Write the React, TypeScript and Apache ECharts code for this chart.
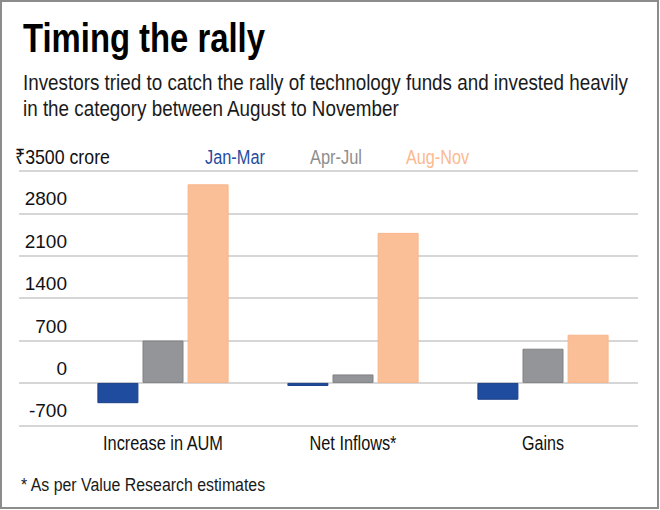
import React, { useEffect, useRef } from "react";
import * as echarts from "echarts";

const categories = ["Increase in AUM", "Net Inflows*", "Gains"];
const seriesNames = ["Jan-Mar", "Apr-Jul", "Aug-Nov"];
const janMar = [-335, -50, -278];
const aprJul = [700, 140, 565];
const augNov = [3280, 2478, 796];
const yTicks = [-700, 0, 700, 1400, 2100, 2800, 3500];
const unitLabel = "₹3500 crore";
const titleText = "Timing the rally";
const subtitleLines = [
  "Investors tried to catch the rally of technology funds and invested heavily",
  "in the category between August to November",
];
const footnote = "* As per Value Research estimates";

const colors = ["#1f4c9e", "#939598", "#fbbf98"];
const borderColors = ["#1a3f88", "#808184", "#f9b58a"];
const legendColors = ["#1f4ea0", "#8e8e8e", "#fbb98f"];

const FAMILY = "'Liberation Sans', Arial, 'Noto Sans', sans-serif";

function measure(text: string, size: number, weight: string) {
  const ctx = document.createElement("canvas").getContext("2d");
  if (!ctx) return text.length * size * 0.5;
  ctx.font = `${weight} ${size}px ${FAMILY}`;
  return ctx.measureText(text).width;
}

function fitText(
  text: string,
  x: number,
  y: number,
  targetWidth: number,
  size: number,
  weight: string,
  fill: string,
  align: string = "left"
) {
  const w = measure(text, size, weight);
  const s = w > 0 ? targetWidth / w : 1;
  return {
    type: "text",
    x,
    y,
    scaleX: s,
    scaleY: 1,
    silent: true,
    style: {
      text,
      fill,
      font: `${weight} ${size}px ${FAMILY}`,
      textAlign: align,
      textVerticalAlign: "middle",
    },
  };
}

export default function App() {
  const ref = useRef<HTMLDivElement>(null);
  useEffect(() => {
    document.body.style.margin = "0";
    if (!ref.current) return;
    const chart = echarts.init(ref.current, null, { renderer: "svg" });
    const top = 171;
    const bottom = 510 - 425.3;
    const yMin = yTicks[0];
    const yMax = yTicks[yTicks.length - 1];
    const step = yTicks[1] - yTicks[0];
    const seriesData = [janMar, aprJul, augNov];

    const sub1Scale = 605 / measure(subtitleLines[0], 22, "normal");
    const subtitleEls = subtitleLines.map((t, i) => ({
      type: "text",
      x: 23,
      y: 82 + i * 26,
      scaleX: sub1Scale,
      silent: true,
      style: {
        text: t,
        fill: "#1a1a1a",
        font: `normal 22px ${FAMILY}`,
        textAlign: "left",
        textVerticalAlign: "middle",
      },
    }));

    const legendX = [205, 310, 406];
    const legendW = [60, 52, 63];
    const legendEls = seriesNames.map((n, i) =>
      fitText(n, legendX[i], 157, legendW[i], 20, "normal", legendColors[i])
    );

    const baseGraphic: any[] = [
      {
        type: "rect",
        shape: { x: 1, y: 1, width: 657, height: 507 },
        style: { fill: "none", stroke: "#8c8c8c", lineWidth: 2 },
        silent: true,
      },
      fitText(titleText, 23, 38, 242, 41, "bold", "#000"),
      ...subtitleEls,
      fitText(unitLabel, 15, 157, 95, 20, "normal", "#111"),
      ...legendEls,
      fitText(footnote, 21, 484, 245, 19, "normal", "#1a1a1a"),
    ];

    chart.setOption({
      animation: false,
      backgroundColor: "#ffffff",
      grid: [
        { left: 19, right: 22, top, bottom },
        { left: 68, right: 22, top, bottom },
      ],
      xAxis: [
        { type: "value", gridIndex: 0, show: false, min: 0, max: 1 },
        {
          type: "category",
          gridIndex: 1,
          data: categories,
          axisLine: { show: false },
          axisTick: { show: false },
          axisLabel: { show: false },
        },
      ],
      yAxis: [
        {
          type: "value",
          gridIndex: 0,
          min: yMin,
          max: yMax,
          interval: step,
          axisLabel: { show: false },
          axisLine: { show: false },
          axisTick: { show: false },
          splitLine: { lineStyle: { color: "#c9c9c9", width: 1.5 } },
        },
        {
          type: "value",
          gridIndex: 1,
          min: yMin,
          max: yMax,
          interval: step,
          axisLine: { show: false },
          axisTick: { show: false },
          splitLine: { show: false },
          axisLabel: {
            fontFamily: FAMILY,
            fontSize: 19,
            color: "#111",
            margin: 1,
            verticalAlign: "bottom",
            padding: [0, 0, 5, 0],
            formatter: (v: number) => (v === yMax ? "" : String(v)),
          },
        },
      ],
      series: seriesNames.map((name, i) => ({
        name,
        type: "bar",
        xAxisIndex: 1,
        yAxisIndex: 1,
        barWidth: 41,
        barGap: "10%",
        data: seriesData[i],
        itemStyle: { color: colors[i], borderColor: borderColors[i], borderWidth: 1 },
      })),
      graphic: baseGraphic,
    });

    const catWidths = [121, 87, 42];
    const catEls = categories.map((c, i) => {
      const px = chart.convertToPixel({ xAxisIndex: 1 } as any, c) as any;
      const cx = typeof px === "number" ? px : Array.isArray(px) ? px[0] : 0;
      return fitText(c, cx, 443, catWidths[i], 20, "normal", "#111", "center");
    });
    chart.setOption({ graphic: [...baseGraphic, ...catEls] }, { replaceMerge: ["graphic"] } as any);

    return () => chart.dispose();
  }, []);
  return <div ref={ref} style={{ width: 660, height: 510 }} />;
}
